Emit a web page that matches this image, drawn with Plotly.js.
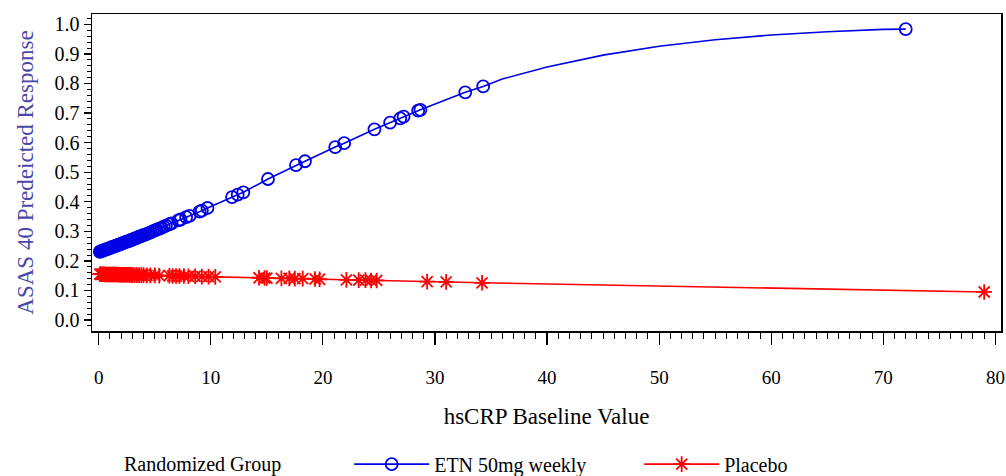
<!DOCTYPE html>
<html>
<head>
<meta charset="utf-8">
<script src="https://cdn.plot.ly/plotly-3.0.1.min.js"></script>
<style>html,body{margin:0;padding:0;background:#fff;}#chart{width:1006px;height:476px;}</style>
</head>
<body>
<div id="chart"></div>
<script>
// ETN 50mg weekly: observed baseline hsCRP values and predicted response
const etnX = [0.1,0.2,0.3,0.4,0.5,0.6,0.7,0.8,0.9,1.0,1.1,1.2,1.3,1.4,1.5,1.6,1.7,1.8,1.9,2.0,2.1,2.2,2.3,2.4,2.5,2.6,2.7,2.8,2.9,3.0,3.1,3.2,3.3,3.4,3.5,3.6,3.7,3.8,3.9,4.0,4.2,4.4,4.6,4.8,5.0,5.2,5.4,5.6,5.8,6.0,6.3,6.5,7.1,7.3,7.8,8.1,9.0,9.2,9.7,11.9,12.4,12.9,15.1,17.6,18.4,21.1,21.9,24.6,26.0,26.9,27.2,28.5,28.7,32.7,34.3,72.0];
const etnY = [0.231,0.233,0.234,0.235,0.237,0.238,0.240,0.241,0.242,0.244,0.245,0.247,0.248,0.249,0.251,0.252,0.254,0.255,0.256,0.258,0.259,0.261,0.262,0.264,0.265,0.266,0.268,0.269,0.271,0.272,0.274,0.275,0.277,0.278,0.280,0.281,0.283,0.284,0.286,0.287,0.290,0.293,0.296,0.300,0.303,0.306,0.309,0.312,0.316,0.319,0.324,0.327,0.337,0.340,0.348,0.352,0.367,0.370,0.379,0.416,0.424,0.432,0.477,0.524,0.537,0.585,0.598,0.645,0.668,0.682,0.688,0.708,0.711,0.770,0.790,0.984];
// fitted curve between the last observed points (no markers)
const etnCurveX = [34.3,36,40,45,50,55,60,65,70,72.0];
const etnCurveY = [0.790,0.815,0.856,0.896,0.926,0.948,0.964,0.975,0.983,0.984];

// Placebo
const pboX = [0.1,0.2,0.3,0.4,0.5,0.6,0.7,0.8,0.9,1.0,1.1,1.2,1.3,1.4,1.5,1.6,1.7,1.8,1.9,2.0,2.1,2.2,2.3,2.4,2.5,2.6,2.7,2.8,2.9,3.0,3.2,3.4,3.6,3.8,4.0,4.3,4.6,5.0,5.4,6.3,6.6,6.9,7.2,7.6,8.0,8.6,9.2,9.8,10.4,14.3,14.8,15.0,16.3,17.0,17.5,18.2,19.3,19.7,22.1,23.2,23.8,24.3,24.8,29.3,31.0,34.2,79.0];
const pboY = [0.155,0.155,0.155,0.155,0.155,0.154,0.154,0.154,0.154,0.154,0.154,0.154,0.154,0.154,0.154,0.154,0.154,0.153,0.153,0.153,0.153,0.153,0.153,0.153,0.153,0.153,0.153,0.153,0.153,0.152,0.152,0.152,0.152,0.152,0.152,0.151,0.151,0.151,0.150,0.150,0.149,0.149,0.149,0.149,0.148,0.148,0.147,0.147,0.146,0.143,0.142,0.142,0.141,0.141,0.140,0.140,0.139,0.138,0.136,0.135,0.135,0.134,0.134,0.130,0.129,0.126,0.095];

const seriesNames = ["ETN 50mg weekly", "Placebo"];
const legendTitle = "Randomized Group";
const xTitle = "hsCRP Baseline Value";
const yTitle = "ASAS 40 Predeicted Response";

const FONT = "Liberation Serif, Times New Roman, DejaVu Serif, serif";
const BLUE = "#0000e6";
const RED = "#ff0000";

// break the observed-point line where the fitted curve trace takes over
const n = etnX.length;
const etnLineX = etnX.slice(0, n - 1).concat([null], etnX.slice(n - 1));
const etnLineY = etnY.slice(0, n - 1).concat([null], etnY.slice(n - 1));

const traces = [
  {x: etnCurveX, y: etnCurveY, mode: "lines", showlegend: false, hoverinfo: "skip",
   line: {color: BLUE, width: 1.6}},
  {x: etnLineX, y: etnLineY, mode: "lines+markers", name: seriesNames[0], connectgaps: false,
   line: {color: BLUE, width: 1.6},
   marker: {symbol: "circle-open", size: 12, color: BLUE, line: {color: BLUE, width: 1.8}}},
  {x: pboX, y: pboY, mode: "lines+markers", name: seriesNames[1],
   line: {color: RED, width: 1.6},
   marker: {symbol: "asterisk-open", size: 13, color: RED, line: {color: RED, width: 1.8}}}
];

const layout = {
  width: 1006, height: 476,
  paper_bgcolor: "#fff", plot_bgcolor: "#fff",
  margin: {l: 92, r: 5, t: 14, b: 145, pad: 0, autoexpand: false},
  font: {family: FONT, size: 19, color: "#000"},
  xaxis: {
    range: [-0.6, 80.5], dtick: 10, tick0: 0,
    showgrid: false, zeroline: false,
    showline: true, mirror: true, linecolor: "#000", linewidth: 1.5,
    ticks: "outside", ticklen: 12, tickwidth: 1.2, tickcolor: "#000",
    ticklabelstandoff: 17,
    minor: {dtick: 1, ticks: "outside", ticklen: 6, tickwidth: 1, tickcolor: "#000", showgrid: false},
    tickfont: {family: FONT, size: 19, color: "#000"},
    title: {text: xTitle, font: {family: FONT, size: 23, color: "#000"}, standoff: 20}
  },
  yaxis: {
    range: [-0.037, 1.035], dtick: 0.1, tick0: 0, tickformat: ".1f",
    showgrid: false, zeroline: false,
    showline: true, mirror: true, linecolor: "#000", linewidth: 1.5,
    ticks: "outside", ticklen: 7, tickwidth: 1.2, tickcolor: "#000",
    minor: {dtick: 0.02, ticks: "outside", ticklen: 4, tickwidth: 1, tickcolor: "#000", showgrid: false},
    tickfont: {family: FONT, size: 20, color: "#000"},
    title: {text: yTitle, font: {family: FONT, size: 23, color: "#4848a8"}, standoff: 14}
  },
  legend: {
    orientation: "h", x: 0.033, xanchor: "left", y: -0.42, yanchor: "middle",
    title: {text: legendTitle + "\u00a0".repeat(12), font: {family: FONT, size: 20, color: "#000"}, side: "left"},
    font: {family: FONT, size: 20, color: "#000"},
    itemwidth: 75, entrywidth: 200, entrywidthmode: "pixels", bgcolor: "rgba(0,0,0,0)"
  },
  showlegend: true
};

Plotly.newPlot("chart", traces, layout, {displayModeBar: false, staticPlot: true});
</script>
</body>
</html>
